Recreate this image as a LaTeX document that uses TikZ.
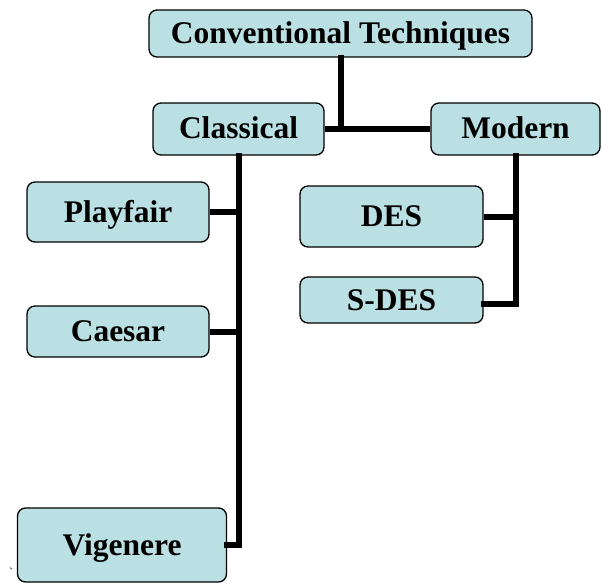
\documentclass[tikz,border=0pt]{standalone}
\usepackage{fontspec}
\setmainfont{Liberation Serif}
\usepackage{tikz}
\usetikzlibrary{positioning,calc}
\definecolor{boxfill}{RGB}{187,224,227}

\begin{document}
\begin{tikzpicture}[
    x=1pt, y=-1pt,
    font=\bfseries\fontsize{31.5}{33}\selectfont,
    tbox/.style={draw=black, line width=1.3pt, rounded corners=8pt, fill=boxfill, inner sep=0pt, align=center, text height=20pt, text depth=0pt},
    link/.style={line width=6pt},
  ]
  \useasboundingbox (0,0) rectangle (602,583);
  \node[tbox, minimum width=383pt, minimum height=47pt] (conv) at (340.5, 33.5) {Conventional Techniques};
  \node[tbox, minimum width=171pt, minimum height=52pt] (cls) at (238.5, 129) {Classical};
  \node[tbox, minimum width=169pt, minimum height=52pt] (mod) at (515.5, 129) {Modern};
  \node[tbox, minimum width=182pt, minimum height=60pt] (pf) at (118, 212) {Playfair};
  \node[tbox, minimum width=182pt, minimum height=51pt] (cae) at (118, 331.5) {Caesar};
  \node[tbox, minimum width=209pt, minimum height=74pt] (vig) at (122, 545) {Vigenere};
  \node[tbox, minimum width=183pt, minimum height=61pt] (des) at (391.5, 216.5) {DES};
  \node[tbox, minimum width=183pt, minimum height=46pt] (sdes) at (391.5, 300) {S-DES};
  \node[font=\fontsize{12}{12}\selectfont, inner sep=0pt] (tick) at (11, 572) {\textasciigrave};
  \coordinate (sdesin) at ([yshift=-4pt]sdes.east);
  % trunk
  \draw[link, line cap=rect] (conv.south) -- (conv.south |- cls.east);
  \draw[link] (cls.east) -- (mod.west);
  % classical branch
  \draw[link, line cap=rect] (cls.south) -- (cls.south |- vig.east) -- (vig.east);
  \foreach \n in {pf, cae}{
    \draw[link] (\n.east) -- (\n.east -| cls.south);
  }
  % modern branch
  \draw[link, line cap=rect] (mod.south) -- (mod.south |- sdesin) -- (sdesin);
  \draw[link] (des.east) -- (des.east -| mod.south);
\end{tikzpicture}
\end{document}
